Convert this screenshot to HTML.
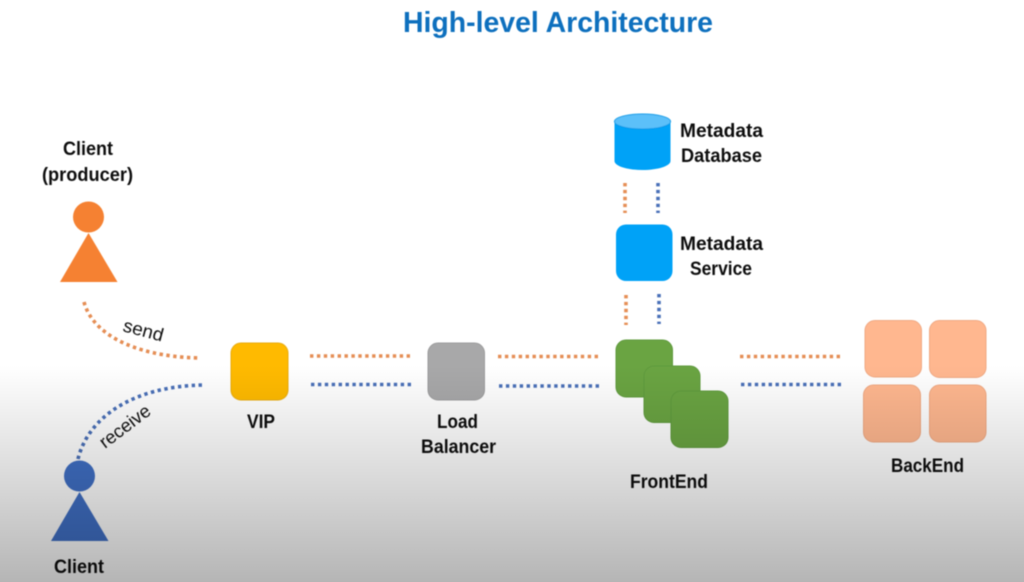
<!DOCTYPE html>
<html>
<head>
<meta charset="utf-8">
<style>
html,body{margin:0;padding:0;background:#fff}
body{width:1024px;height:582px;overflow:hidden;position:relative}
svg{position:absolute;left:0;top:0;display:block}
text{font-family:"Liberation Sans",sans-serif;font-weight:700;fill:#111;font-size:19px}
.n{fill:none;stroke-width:3.6;stroke-dasharray:3.4 3.5}
.o{stroke:#E58E55}
.b{stroke:#4A70B8}
</style>
</head>
<body>
<svg width="1024" height="582" viewBox="0 0 1024 582" xmlns="http://www.w3.org/2000/svg">
<defs>
<linearGradient id="shade" x1="0" y1="0" x2="0" y2="1">
<stop offset="0" stop-color="#000" stop-opacity="0"/>
<stop offset="0.25" stop-color="#000" stop-opacity="0.07"/>
<stop offset="0.6" stop-color="#000" stop-opacity="0.17"/>
<stop offset="1" stop-color="#000" stop-opacity="0.29"/>
</linearGradient>
<filter id="soft" x="-2%" y="-2%" width="104%" height="104%"><feGaussianBlur stdDeviation="0.45"/></filter>
</defs>
<g filter="url(#soft)">
<text x="403" y="32" textLength="310" lengthAdjust="spacingAndGlyphs" style="font-size:29px;fill:#0B6FBE">High-level Architecture</text>

<circle cx="88.5" cy="217" r="15.5" fill="#F58130"/>
<polygon points="88.5,233 117.5,282 60,282" fill="#F58130"/>
<text x="63" y="155" textLength="50" lengthAdjust="spacingAndGlyphs">Client</text>
<text x="42" y="181" textLength="91" lengthAdjust="spacingAndGlyphs">(producer)</text>

<circle cx="79.5" cy="476" r="15.5" fill="#3F6FC6"/>
<polygon points="79.5,492 108.5,541 51,541" fill="#3F6FC6"/>
<text x="54" y="573" textLength="50" lengthAdjust="spacingAndGlyphs">Client</text>

<path class="n o" d="M84 302 C92 332 130 356 198 358"/>
<path class="n b" d="M78 459 C88 418 132 386 204 385"/>
<text transform="translate(122,331) rotate(15)" textLength="41" lengthAdjust="spacingAndGlyphs" style="font-weight:400;font-size:18.5px">send</text>
<text transform="translate(105,449) rotate(-37)" textLength="59" lengthAdjust="spacingAndGlyphs" style="font-weight:400;font-size:18.5px">receive</text>

<rect x="231" y="343" width="57" height="57" rx="10" fill="#FFBA00" stroke="#E8AC10"/>
<text x="247" y="428" textLength="28" lengthAdjust="spacingAndGlyphs">VIP</text>

<rect x="428" y="343" width="56.500" height="57" rx="10" fill="#A8A8A9" stroke="#9C9C9D"/>
<text x="437" y="428" textLength="41" lengthAdjust="spacingAndGlyphs">Load</text>
<text x="421" y="453" textLength="75" lengthAdjust="spacingAndGlyphs">Balancer</text>

<path class="n o" d="M310 356H412"/>
<path class="n b" d="M311 384.500H413"/>
<path class="n o" d="M498 356.500H600"/>
<path class="n b" d="M499 386H601"/>
<path class="n o" d="M740 356.500H842"/>
<path class="n b" d="M741 384.500H843"/>
<path class="n o" d="M625 183V213"/>
<path class="n b" d="M658 183V213"/>
<path class="n o" d="M626 295V325"/>
<path class="n b" d="M659 294V324"/>

<path d="M614.500 122 V161 C614.500 166 627 170 642.500 170 C658 170 670.500 166 670.500 161 V122 Z" fill="#00A2F7"/>
<ellipse cx="642.500" cy="121.500" rx="28" ry="7.500" fill="#5BC0F9" stroke="#0C9BE8" stroke-width="1"/>
<text x="680" y="137" textLength="83" lengthAdjust="spacingAndGlyphs">Metadata</text>
<text x="681" y="162" textLength="81" lengthAdjust="spacingAndGlyphs">Database</text>

<rect x="616" y="224.500" width="56.500" height="56.500" rx="10" fill="#00A2F7"/>
<text x="680" y="250" textLength="83" lengthAdjust="spacingAndGlyphs">Metadata</text>
<text x="690" y="275" textLength="62" lengthAdjust="spacingAndGlyphs">Service</text>

<rect x="616" y="340" width="56.500" height="57" rx="10" fill="#6AA442" stroke="#5F9A3D"/>
<rect x="644" y="366" width="56" height="56.500" rx="10" fill="#6AA442" stroke="#5F9A3D"/>
<rect x="671" y="391" width="57" height="56.500" rx="10" fill="#6AA442" stroke="#5F9A3D"/>
<text x="630" y="488" textLength="78" lengthAdjust="spacingAndGlyphs">FrontEnd</text>

<rect x="865" y="320.500" width="56.500" height="56.500" rx="10" fill="#FFB78F" stroke="#F0A983"/>
<rect x="929.500" y="320.500" width="56.500" height="57" rx="10" fill="#FFB78F" stroke="#F0A983"/>
<rect x="863.500" y="385" width="57" height="57" rx="10" fill="#FFB78F" stroke="#F0A983"/>
<rect x="929.500" y="385" width="56.500" height="57" rx="10" fill="#FFB78F" stroke="#F0A983"/>
<text x="891" y="472" textLength="73" lengthAdjust="spacingAndGlyphs">BackEnd</text>
</g>
<rect x="0" y="365" width="1024" height="217" fill="url(#shade)"/>
</svg>
</body>
</html>
